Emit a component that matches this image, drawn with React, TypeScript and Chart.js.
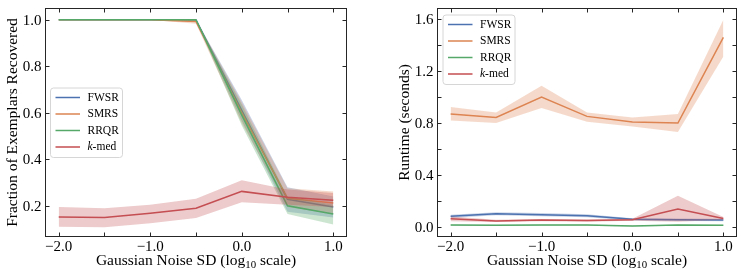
import React, { useEffect, useRef } from "react";
import { Chart, registerables } from "chart.js";

Chart.register(...registerables);

const FONT = '"Liberation Serif", "Times New Roman", Times, serif';

// ---- data ----
const noiseLevels = [-2.0, -1.5, -1.0, -0.5, 0.0, 0.5, 1.0];
const methodNames = ["FWSR", "SMRS", "RRQR", "k-med"];
const methodColors = ["#4C72B0", "#DD8452", "#55A868", "#C44E52"];

// tick positions / labels
const xTickMarks = [-2.0, -1.5, -1.0, -0.5, 0.0, 0.5, 1.0];
const xTickLabels = [-2.0, -1.0, 0.0, 1.0];
const leftYTickMarks = [0.2, 0.4, 0.6, 0.8, 1.0];
const leftYTickLabels = [0.2, 0.4, 0.6, 0.8, 1.0];
const rightYTickMarks = [0.0, 0.2, 0.4, 0.6, 0.8, 1.0, 1.2, 1.4, 1.6];
const rightYTickLabels = [0.0, 0.4, 0.8, 1.2, 1.6];

// Fraction of exemplars recovered
const fracFWSR = [1.0, 1.0, 1.0, 0.998, 0.61, 0.228, 0.195];
const fracFWSRLo = [1.0, 1.0, 1.0, 0.99, 0.565, 0.175, 0.15];
const fracFWSRHi = [1.0, 1.0, 1.0, 1.0, 0.655, 0.28, 0.24];
const fracSMRS = [1.0, 1.0, 1.0, 0.992, 0.6, 0.232, 0.212];
const fracSMRSLo = [1.0, 1.0, 1.0, 0.982, 0.555, 0.195, 0.165];
const fracSMRSHi = [1.0, 1.0, 1.0, 1.0, 0.645, 0.275, 0.262];
const fracRRQR = [1.0, 1.0, 1.0, 1.0, 0.59, 0.2, 0.165];
const fracRRQRLo = [1.0, 1.0, 1.0, 0.995, 0.545, 0.165, 0.12];
const fracRRQRHi = [1.0, 1.0, 1.0, 1.0, 0.635, 0.24, 0.205];
const fracKmed = [0.152, 0.15, 0.168, 0.19, 0.262, 0.237, 0.224];
const fracKmedLo = [0.11, 0.108, 0.125, 0.148, 0.215, 0.205, 0.195];
const fracKmedHi = [0.195, 0.19, 0.205, 0.23, 0.31, 0.27, 0.255];

// Runtime (seconds)
const timeFWSR = [0.082, 0.102, 0.095, 0.087, 0.059, 0.056, 0.054];
const timeFWSRLo = [0.07, 0.09, 0.083, 0.075, 0.05, 0.047, 0.045];
const timeFWSRHi = [0.094, 0.114, 0.107, 0.099, 0.068, 0.065, 0.063];
const timeSMRS = [0.869, 0.843, 1.0, 0.851, 0.807, 0.8, 1.459];
const timeSMRSLo = [0.82, 0.8, 0.915, 0.81, 0.774, 0.73, 1.312];
const timeSMRSHi = [0.923, 0.88, 1.087, 0.88, 0.843, 0.869, 1.595];
const timeRRQR = [0.015, 0.013, 0.015, 0.015, 0.008, 0.015, 0.013];
const timeRRQRLo = [0.01, 0.008, 0.01, 0.01, 0.004, 0.01, 0.008];
const timeRRQRHi = [0.02, 0.018, 0.02, 0.02, 0.012, 0.02, 0.018];
const timeKmed = [0.064, 0.046, 0.054, 0.049, 0.056, 0.138, 0.066];
const timeKmedLo = [0.045, 0.038, 0.045, 0.04, 0.048, 0.04, 0.055];
const timeKmedHi = [0.08, 0.055, 0.062, 0.058, 0.064, 0.241, 0.077];

const xTitleMain = "Gaussian Noise SD (log";
const xTitleSub = "10";
const xTitleEnd = " scale)";
const leftYTitle = "Fraction of Exemplars Recovered";
const rightYTitle = "Runtime (seconds)";

function hexToRgba(hex: string, a: number) {
  const n = parseInt(hex.slice(1), 16);
  return `rgba(${(n >> 16) & 255},${(n >> 8) & 255},${n & 255},${a})`;
}

function buildDatasets(series: { mean: number[]; lo: number[]; hi: number[] }[]) {
  const ds: any[] = [];
  const total = series.length * 3;
  series.forEach((s, i) => {
    const col = methodColors[i];
    const pts = (arr: number[]) => noiseLevels.map((x, j) => ({ x, y: arr[j] }));
    const base = ds.length;
    ds.push({
      label: methodNames[i] + " hi",
      data: pts(s.hi),
      borderColor: "rgba(0,0,0,0)",
      borderWidth: 1,
      pointRadius: 0,
      tension: 0,
      fill: "+1",
      backgroundColor: hexToRgba(col, 0.3),
      order: total - base,
    });
    ds.push({
      label: methodNames[i] + " lo",
      data: pts(s.lo),
      borderColor: "rgba(0,0,0,0)",
      borderWidth: 1,
      pointRadius: 0,
      tension: 0,
      fill: false,
      order: total - base - 1,
    });
    ds.push({
      label: methodNames[i],
      data: pts(s.mean),
      borderColor: col,
      borderWidth: 1.5,
      pointRadius: 0,
      tension: 0,
      fill: false,
      order: total - base - 2,
    });
  });
  return ds;
}

type Deco = {
  yTitle: string;
  legendDx: number;
  legendDy: number;
  yMarks: number[];
  yLabels: number[];
};

function fmt(v: number): string {
  const s = v.toFixed(1);
  return v < 0 ? "\u2212" + s.slice(1) : s;
}

function decoPlugin(d: Deco) {
  return {
    id: "deco",
    afterDraw(chart: any) {
      const ctx: CanvasRenderingContext2D = chart.ctx;
      const a = chart.chartArea;
      const xs = chart.scales.x;
      const ys = chart.scales.y;
      ctx.save();
      const L = Math.round(a.left) + 0.5;
      const T = Math.round(a.top) + 0.5;
      const R = Math.round(a.right) - 0.5;
      const B = Math.round(a.bottom) - 0.5;
      ctx.strokeStyle = "#262626";
      ctx.lineWidth = 1;
      // inward ticks
      const tl = 4;
      ctx.beginPath();
      for (const v of xTickMarks) {
        const px = Math.round(xs.getPixelForValue(v)) + 0.5;
        ctx.moveTo(px, B);
        ctx.lineTo(px, B - tl);
        ctx.moveTo(px, T);
        ctx.lineTo(px, T + tl);
      }
      for (const v of d.yMarks) {
        const py = Math.round(ys.getPixelForValue(v)) + 0.5;
        ctx.moveTo(L, py);
        ctx.lineTo(L + tl, py);
        ctx.moveTo(R, py);
        ctx.lineTo(R - tl, py);
      }
      ctx.stroke();
      ctx.strokeRect(L, T, R - L, B - T);

      // tick labels
      ctx.fillStyle = "#000000";
      ctx.font = "15px " + FONT;
      ctx.textBaseline = "alphabetic";
      ctx.textAlign = "center";
      for (const v of xTickLabels) {
        const px = xs.getPixelForValue(v);
        ctx.fillText(fmt(v), px, a.bottom + 13.5);
      }
      ctx.textAlign = "right";
      for (const v of d.yLabels) {
        const py = ys.getPixelForValue(v);
        ctx.fillText(fmt(v), a.left - 3.5, py + 5);
      }

      // x title with subscript
      const fs = 15.5;
      const mainFont = `${fs}px ${FONT}`;
      const subFont = `${fs * 0.7}px ${FONT}`;
      ctx.font = mainFont;
      const w1 = ctx.measureText(xTitleMain).width;
      const w3 = ctx.measureText(xTitleEnd).width;
      ctx.font = subFont;
      const w2 = ctx.measureText(xTitleSub).width;
      const cx = (a.left + a.right) / 2;
      const x0 = cx - (w1 + w2 + w3) / 2;
      const by = a.bottom + 27.5;
      ctx.textBaseline = "alphabetic";
      ctx.textAlign = "left";
      ctx.font = mainFont;
      ctx.fillText(xTitleMain, x0, by);
      ctx.font = subFont;
      ctx.fillText(xTitleSub, x0 + w1, by + 3);
      ctx.font = mainFont;
      ctx.fillText(xTitleEnd, x0 + w1 + w2, by);

      // y title
      ctx.save();
      ctx.translate(a.left - 28, (a.top + a.bottom) / 2);
      ctx.rotate(-Math.PI / 2);
      ctx.textAlign = "center";
      ctx.font = mainFont;
      ctx.fillText(d.yTitle, 0, 0);
      ctx.restore();

      // legend
      const bx = a.left + d.legendDx;
      const byy = a.top + d.legendDy;
      const bw = 72;
      const bh = 69.5;
      ctx.beginPath();
      const r = 3;
      ctx.moveTo(bx + r, byy);
      ctx.lineTo(bx + bw - r, byy);
      ctx.arcTo(bx + bw, byy, bx + bw, byy + r, r);
      ctx.lineTo(bx + bw, byy + bh - r);
      ctx.arcTo(bx + bw, byy + bh, bx + bw - r, byy + bh, r);
      ctx.lineTo(bx + r, byy + bh);
      ctx.arcTo(bx, byy + bh, bx, byy + bh - r, r);
      ctx.lineTo(bx, byy + r);
      ctx.arcTo(bx, byy, bx + r, byy, r);
      ctx.closePath();
      ctx.fillStyle = "rgba(255,255,255,0.8)";
      ctx.fill();
      ctx.strokeStyle = "#d6d6d6";
      ctx.lineWidth = 1;
      ctx.stroke();
      methodNames.forEach((name, i) => {
        const ry = byy + 9.5 + i * 16.5;
        ctx.strokeStyle = methodColors[i];
        ctx.lineWidth = 1.5;
        ctx.beginPath();
        ctx.moveTo(bx + 5, ry);
        ctx.lineTo(bx + 29.5, ry);
        ctx.stroke();
        ctx.fillStyle = "#000";
        ctx.textBaseline = "middle";
        ctx.textAlign = "left";
        const tx = bx + 37;
        if (name.startsWith("k-")) {
          ctx.font = `italic 11.5px ${FONT}`;
          ctx.fillText("k", tx, ry);
          const kw = ctx.measureText("k").width;
          ctx.font = `11.5px ${FONT}`;
          ctx.fillText(name.slice(1), tx + kw, ry);
        } else {
          ctx.font = `11.5px ${FONT}`;
          ctx.fillText(name, tx, ry);
        }
      });
      ctx.restore();
    },
  };
}

function makeConfig(opts: {
  series: { mean: number[]; lo: number[]; hi: number[] }[];
  yMin: number;
  yMax: number;
  yWidth: number;
  padRight: number;
  deco: Deco;
}) {
  return {
    type: "line" as const,
    data: { datasets: buildDatasets(opts.series) },
    options: {
      responsive: false,
      animation: false as const,
      layout: { padding: { left: 0, top: 8, right: opts.padRight, bottom: 0 } },
      plugins: { legend: { display: false }, tooltip: { enabled: false } },
      scales: {
        x: {
          type: "linear" as const,
          min: -2.15,
          max: 1.15,
          grid: { display: false, drawTicks: false },
          border: { display: false },
          ticks: { display: false },
          afterFit: (s: any) => {
            s.height = 43;
          },
        },
        y: {
          type: "linear" as const,
          min: opts.yMin,
          max: opts.yMax,
          grid: { display: false, drawTicks: false },
          border: { display: false },
          ticks: { display: false },
          afterFit: (s: any) => {
            s.width = opts.yWidth;
          },
        },
      },
    },
    plugins: [decoPlugin(opts.deco)],
  };
}

function ChartCanvas({ makeCfg, width, height }: { makeCfg: () => any; width: number; height: number }) {
  const ref = useRef<HTMLCanvasElement | null>(null);
  useEffect(() => {
    if (!ref.current) return;
    const chart = new Chart(ref.current, makeCfg());
    return () => chart.destroy();
  }, [makeCfg]);
  return <canvas ref={ref} width={width} height={height} style={{ display: "block", width, height }} />;
}

const leftConfig = () =>
  makeConfig({
    series: [
      { mean: fracFWSR, lo: fracFWSRLo, hi: fracFWSRHi },
      { mean: fracSMRS, lo: fracSMRSLo, hi: fracSMRSHi },
      { mean: fracRRQR, lo: fracRRQRLo, hi: fracRRQRHi },
      { mean: fracKmed, lo: fracKmedLo, hi: fracKmedHi },
    ],
    yMin: 0.066,
    yMax: 1.05,
    yWidth: 45,
    padRight: 33,
    deco: { yTitle: leftYTitle, legendDx: 5.5, legendDy: 80, yMarks: leftYTickMarks, yLabels: leftYTickLabels },
  });

const rightConfig = () =>
  makeConfig({
    series: [
      { mean: timeFWSR, lo: timeFWSRLo, hi: timeFWSRHi },
      { mean: timeSMRS, lo: timeSMRSLo, hi: timeSMRSHi },
      { mean: timeRRQR, lo: timeRRQRLo, hi: timeRRQRHi },
      { mean: timeKmed, lo: timeKmedLo, hi: timeKmedHi },
    ],
    yMin: -0.077,
    yMax: 1.685,
    yWidth: 57,
    padRight: 10,
    deco: { yTitle: rightYTitle, legendDx: 6, legendDy: 7, yMarks: rightYTickMarks, yLabels: rightYTickLabels },
  });

export default function App() {
  return (
    <div style={{ position: "absolute", left: 0, top: 0, width: 747, height: 280, background: "#fff" }}>
      <div style={{ position: "absolute", left: 0, top: 0 }}>
        <ChartCanvas makeCfg={leftConfig} width={380} height={280} />
      </div>
      <div style={{ position: "absolute", left: 380, top: 0 }}>
        <ChartCanvas makeCfg={rightConfig} width={367} height={280} />
      </div>
    </div>
  );
}
